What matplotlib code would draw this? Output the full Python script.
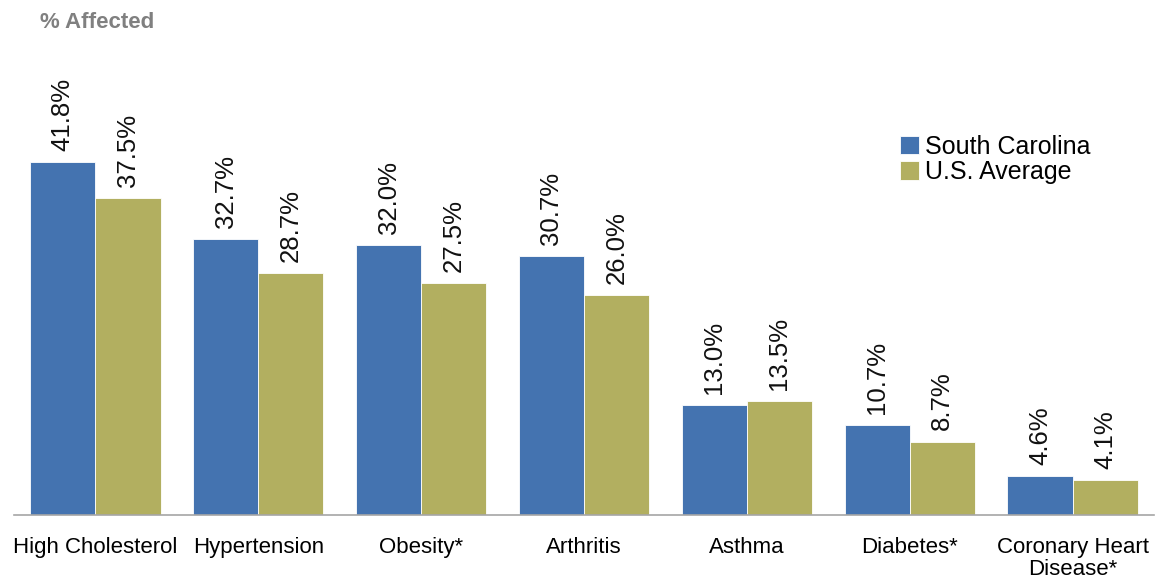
import matplotlib
matplotlib.use("Agg")
import matplotlib.pyplot as plt
import numpy as np

categories = ["High Cholesterol", "Hypertension", "Obesity*", "Arthritis", "Asthma", "Diabetes*", "Coronary Heart\nDisease*"]
sc_values = [41.8, 32.7, 32.0, 30.7, 13.0, 10.7, 4.6]
us_values = [37.5, 28.7, 27.5, 26.0, 13.5, 8.7, 4.1]
series_names = ["South Carolina", "U.S. Average"]

plt.rcParams['font.family'] = ['Liberation Sans', 'DejaVu Sans']

W, H = 1156, 578
fig = plt.figure(figsize=(W/100, H/100), dpi=100)
ax_left, ax_right, ax_bottom, ax_top = 14, 1154, 515, 60
ax = fig.add_axes([ax_left/W, 1 - ax_bottom/H, (ax_right-ax_left)/W, (ax_bottom-ax_top)/H])

blue = "#4473B0"
olive = "#B2AF60"
x = np.arange(len(categories))
w = 0.4
b1 = ax.bar(x - w/2, sc_values, w, color=blue, edgecolor="white", linewidth=0.6, label=series_names[0])
b2 = ax.bar(x + w/2, us_values, w, color=olive, edgecolor="white", linewidth=0.6, label=series_names[1])

ymax = (ax_bottom - ax_top) / 8.445
ax.set_ylim(0, ymax)
ax.set_xlim(-0.5, len(categories) - 0.5)

for bars, vals in ((b1, sc_values), (b2, us_values)):
    for r, v in zip(bars, vals):
        ax.annotate(f"{v:.1f}%", (r.get_x() + r.get_width()/2, v), xytext=(0, 8),
                    textcoords="offset points", rotation=90, ha="center", va="bottom",
                    fontsize=18.5, color="#111111")

for s in ["top", "right", "left"]:
    ax.spines[s].set_visible(False)
ax.spines["bottom"].set_color("#A6A6A6")
ax.spines["bottom"].set_linewidth(1.2)
ax.set_yticks([])
ax.set_xticks(x)
ax.set_xticklabels(categories, fontsize=16, linespacing=1.05)
ax.tick_params(axis="x", length=0, pad=16)

leg = ax.legend(loc="upper left", bbox_to_anchor=((900-ax_left)/(ax_right-ax_left), 1 - (135-ax_top)/(ax_bottom-ax_top)),
                frameon=False, fontsize=18, handlelength=0.75, handleheight=0.75,
                handletextpad=0.25, labelspacing=0.05, borderaxespad=0, borderpad=0)

fig.text(40/W, 1 - 23/H, "% Affected", fontsize=16, fontweight="bold", color="#808080", va="center", ha="left")

fig.savefig("out.png", dpi=100)
